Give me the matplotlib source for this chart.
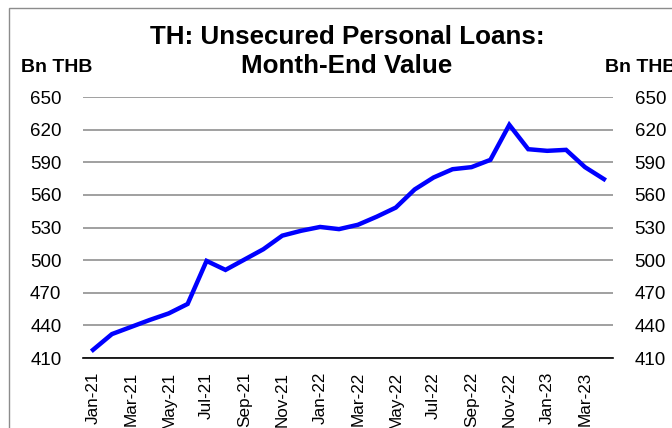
import matplotlib
matplotlib.use("Agg")
import matplotlib.pyplot as plt
from matplotlib.patches import Rectangle

months = ["Jan-21", "Feb-21", "Mar-21", "Apr-21", "May-21", "Jun-21", "Jul-21",
          "Aug-21", "Sep-21", "Oct-21", "Nov-21", "Dec-21", "Jan-22", "Feb-22",
          "Mar-22", "Apr-22", "May-22", "Jun-22", "Jul-22", "Aug-22", "Sep-22",
          "Oct-22", "Nov-22", "Dec-22", "Jan-23", "Feb-23", "Mar-23", "Apr-23"]
loans = [417.5, 432, 438.5, 445, 451, 459.7, 499.3, 491, 500.5, 510, 522.5, 527,
         530.5, 528.5, 532.5, 540, 548.3, 565, 576, 583.6, 585.5, 592.2, 624.4,
         602, 600.5, 601.4, 585.5, 574.5]
yticks = [410, 440, 470, 500, 530, 560, 590, 620, 650]
title_lines = ["TH: Unsecured Personal Loans:", "Month-End Value"]

plt.rcParams['font.family'] = ['Liberation Sans', 'DejaVu Sans']

fig = plt.figure(figsize=(6.72, 4.28), dpi=100)
ax = fig.add_axes([83 / 672, 1 - 358 / 428, 530 / 672, 261 / 428])

# outer chart frame (partly cut off like the reference)
fig.patches.append(Rectangle((9 / 672, -0.1), 1.2, 1.1 - 8 / 428,
                             transform=fig.transFigure, fill=False,
                             edgecolor='#8c8c8c', linewidth=1.0))

x = list(range(len(months)))
ax.plot(x, loans, color='#0000ff', linewidth=3.2, solid_joinstyle='miter')

ax.set_ylim(410, 650)
ax.set_xlim(-0.53, len(months) - 1 + 0.48)
ax.set_yticks(yticks)
ax.set_xticks(x[::2])
ax.set_xticklabels(months[::2], rotation=90, fontsize=12.3)
ax.grid(axis='y', color='#999999', linewidth=1.3)
ax.set_axisbelow(True)

for s in ['top', 'left', 'right']:
    ax.spines[s].set_visible(False)
ax.spines['bottom'].set_color('black')
ax.spines['bottom'].set_linewidth(1.2)
ax.spines['bottom'].set_zorder(3)

ax.tick_params(axis='y', left=False, right=False, labelleft=True,
               labelright=True, labelsize=13.5, pad=12)
ax.tick_params(axis='x', bottom=False, pad=6.5)

fig.text(347 / 672, 1 - 44 / 428, title_lines[0], ha='center', va='baseline',
         fontsize=18.7, fontweight='bold')
fig.text(347 / 672, 1 - 73 / 428, title_lines[1], ha='center', va='baseline',
         fontsize=18.7, fontweight='bold')
fig.text(21 / 672, 1 - 67 / 428, "Bn THB", ha='left', va='center',
         fontsize=14, fontweight='bold')
fig.text(605 / 672, 1 - 67 / 428, "Bn THB", ha='left', va='center',
         fontsize=14, fontweight='bold')

fig.savefig("out.png", dpi=100)
